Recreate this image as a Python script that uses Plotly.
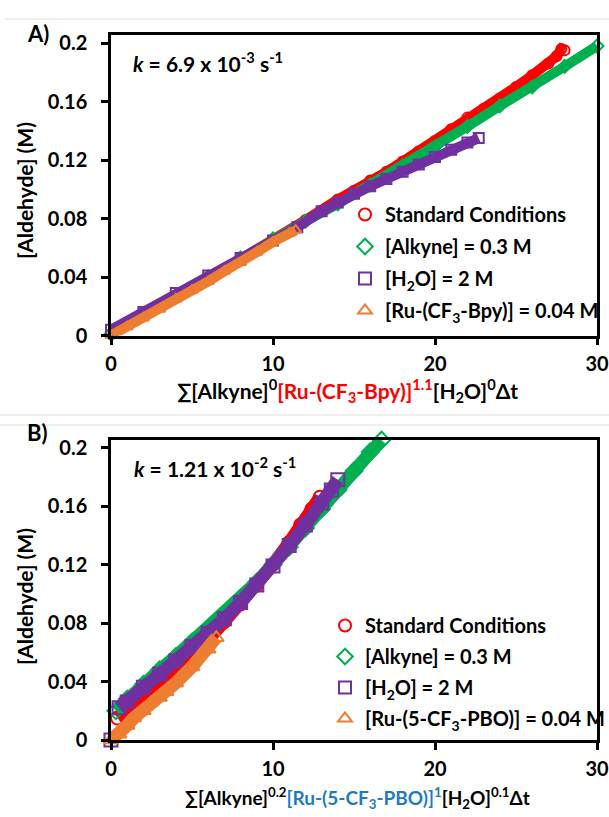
import plotly.graph_objects as go

W, H = 609, 817

# ---------------- Panel A data ----------------
a_std_x = [0, 2, 4, 6, 8, 10, 12, 14, 15, 16, 17, 18, 19, 20, 21, 22, 23, 24, 25, 26, 27, 27.5, 27.8, 28.0]
a_std_y = [0.001, 0.013, 0.026, 0.039, 0.052, 0.065, 0.079, 0.093, 0.099, 0.106, 0.112, 0.119, 0.126, 0.133,
           0.141, 0.149, 0.155, 0.162, 0.170, 0.178, 0.186, 0.191, 0.196, 0.195]

a_alk_x = [0, 2, 4, 6, 8, 10, 12, 14, 16, 18, 20, 22, 24, 26, 28, 30]
a_alk_y = [0.001, 0.014, 0.027, 0.040, 0.053, 0.066, 0.078, 0.090, 0.103, 0.116, 0.129, 0.143, 0.157, 0.170,
           0.184, 0.198]

a_h2o_x = [0, 2, 4, 6, 8, 10, 11.5, 13, 14, 15, 16, 17, 18, 19, 20, 21, 22, 22.7]
a_h2o_y = [0.004, 0.016, 0.029, 0.041, 0.053, 0.065, 0.074, 0.085, 0.091, 0.097, 0.102, 0.107, 0.112, 0.117,
           0.122, 0.127, 0.132, 0.135]

a_ru_x = [0, 1, 2, 3, 4, 5, 6, 7, 8, 9, 10, 11, 11.4]
a_ru_y = [0.000, 0.006, 0.012, 0.018, 0.025, 0.031, 0.037, 0.044, 0.050, 0.057, 0.064, 0.070, 0.072]

# ---------------- Panel B data ----------------
b_std_x = [0.4, 1, 2, 3, 4, 5, 6, 7, 8, 9, 10, 11, 11.7, 12.4, 12.9]
b_std_y = [0.015, 0.019, 0.028, 0.038, 0.048, 0.058, 0.069, 0.081, 0.093, 0.106, 0.120, 0.135, 0.147, 0.158, 0.166]

b_alk_x = [0.3, 1, 2, 3, 4, 5, 6, 7, 8, 9, 10, 11, 12, 13, 14, 15, 16, 16.7]
b_alk_y = [0.020, 0.028, 0.038, 0.048, 0.057, 0.067, 0.076, 0.086, 0.097, 0.108, 0.120, 0.132, 0.145, 0.158,
           0.171, 0.184, 0.197, 0.205]

b_h2o_x = [0, None, 0.5, 1, 2, 3, 4, 5, 6, 7, 8, 9, 10, 11, 12, 13, 13.6, 14]
b_h2o_y = [0.0, None, 0.022, 0.026, 0.036, 0.045, 0.054, 0.064, 0.073, 0.083, 0.094, 0.106, 0.119, 0.133,
           0.147, 0.162, 0.171, 0.178]

b_ru_x = [0, 0.5, 1, 1.4, 2, 3, 3.4, 4, 5, 6, 6.5]
b_ru_y = [0.000, 0.004, 0.010, 0.015, 0.020, 0.029, 0.033, 0.039, 0.050, 0.062, 0.070]

# ---------------- labels ----------------
x_ticks = [0, 10, 20, 30]
y_ticks = [0, 0.04, 0.08, 0.12, 0.16, 0.2]
y_tick_text = ["0", "0.04", "0.08", "0.12", "0.16", "0.2"]

names_a = ["Standard Conditions", "[Alkyne] = 0.3 M", "[H<sub>2</sub>O] = 2 M",
           "[Ru-(CF<sub>3</sub>-Bpy)] = 0.04 M"]
names_b = ["Standard Conditions", "[Alkyne] = 0.3 M", "[H<sub>2</sub>O] = 2 M",
           "[Ru-(5-CF<sub>3</sub>-PBO)] = 0.04 M"]

colors = ["#FF0000", "#00B050", "#7030A0", "#ED7D31"]
symbols = ["circle-open", "diamond-open", "square-open", "triangle-up-open"]

FONT = "Lato"


def px(x):
    return x / W


def py(y):
    return 1 - y / H


fig = go.Figure()

series_a = [(a_std_x, a_std_y), (a_alk_x, a_alk_y), (a_h2o_x, a_h2o_y), (a_ru_x, a_ru_y)]
series_b = [(b_std_x, b_std_y), (b_alk_x, b_alk_y), (b_h2o_x, b_h2o_y), (b_ru_x, b_ru_y)]

for (sx, sy), c, s in zip(series_a, colors, symbols):
    fig.add_trace(go.Scatter(x=sx, y=sy, mode="lines+markers", xaxis="x", yaxis="y",
                             line=dict(color=c, width=10),
                             marker=dict(symbol=s, size=10, color=c, line=dict(width=2, color=c)),
                             cliponaxis=False, showlegend=False, hoverinfo="skip"))
for (sx, sy), c, s in zip(series_b, colors, symbols):
    fig.add_trace(go.Scatter(x=sx, y=sy, mode="lines+markers", xaxis="x2", yaxis="y2",
                             line=dict(color=c, width=13),
                             marker=dict(symbol=s, size=13, color=c, line=dict(width=2, color=c)),
                             cliponaxis=False, showlegend=False, hoverinfo="skip", connectgaps=False))

# legend entries
for i, (n, c, s) in enumerate(zip(names_a, colors, symbols)):
    fig.add_trace(go.Scatter(x=[None], y=[None], mode="markers", name=n, xaxis="x", yaxis="y",
                             marker=dict(symbol=s, size=11, color=c, line=dict(width=3, color=c)),
                             legend="legend", legendgroup="a%d" % i))
for i, (n, c, s) in enumerate(zip(names_b, colors, symbols)):
    fig.add_trace(go.Scatter(x=[None], y=[None], mode="markers", name=n, xaxis="x2", yaxis="y2",
                             marker=dict(symbol=s, size=11, color=c, line=dict(width=3, color=c)),
                             legend="legend2", legendgroup="b%d" % i))

axis_common = dict(showline=True, linecolor="black", linewidth=2.5, mirror=True, showgrid=False,
                   zeroline=False, ticks="outside", ticklen=7, tickwidth=2.5, tickcolor="black",
                   tickfont=dict(family=FONT, size=20, color="black", weight="bold"))

xdom = [px(111), px(597)]
leg_font = dict(family=FONT, size=20, color="black", weight="bold")
fig.update_layout(
    width=W, height=H, margin=dict(l=0, r=0, t=0, b=0, autoexpand=False),
    paper_bgcolor="white", plot_bgcolor="white",
    font=dict(family=FONT, color="black"),
    xaxis=dict(domain=xdom, range=[0, 30], tickvals=x_ticks, anchor="y", ticklabelstandoff=2,
               **axis_common),
    yaxis=dict(domain=[py(335.5), py(35)], range=[0, 0.2055], tickvals=y_ticks, ticktext=y_tick_text,
               anchor="x", ticklabelstandoff=10, **axis_common),
    xaxis2=dict(domain=xdom, range=[0, 30], tickvals=x_ticks, anchor="y2", ticklabelstandoff=2,
                **axis_common),
    yaxis2=dict(domain=[py(740), py(439.5)], range=[0, 0.2055], tickvals=y_ticks, ticktext=y_tick_text,
                anchor="x2", ticklabelstandoff=10, **axis_common),
    legend=dict(x=px(345), y=py(195), xanchor="left", yanchor="top", bgcolor="rgba(0,0,0,0)",
                font=leg_font, tracegroupgap=3, itemsizing="constant"),
    legend2=dict(x=px(325), y=py(606), xanchor="left", yanchor="top", bgcolor="rgba(0,0,0,0)",
                 font=leg_font, tracegroupgap=2, itemsizing="constant"),
)

ann_font = dict(family=FONT, size=21, color="black", weight="bold")
lab_font = dict(family=FONT, size=22, color="black", weight="bold")
annotations = [
    dict(text="A)", x=px(38), y=py(34), font=lab_font),
    dict(text="B)", x=px(37), y=py(432), font=lab_font),
    dict(text="<i>k</i> = 6.9 x 10<sup>-3</sup> s<sup>-1</sup>", x=px(131), y=py(62), xanchor="left",
         font=ann_font),
    dict(text="<i>k</i> = 1.21 x 10<sup>-2</sup> s<sup>-1</sup>", x=px(132), y=py(467), xanchor="left",
         font=ann_font),
    dict(text="[Aldehyde] (M)", x=px(24), y=py(191), textangle=-90, font=ann_font),
    dict(text="[Aldehyde] (M)", x=px(24), y=py(597), textangle=-90, font=ann_font),
    dict(text="∑[Alkyne]<sup>0</sup><span style='color:#FF0000'>[Ru-(CF<sub>3</sub>-Bpy)]<sup>1.1</sup></span>"
              "[H<sub>2</sub>O]<sup>0</sup>Δt", x=px(347), y=py(390), font=ann_font),
    dict(text="∑[Alkyne]<sup>0.2</sup><span style='color:#1F7CC1'>[Ru-(5-CF<sub>3</sub>-PBO)]<sup>1</sup></span>"
              "[H<sub>2</sub>O]<sup>0.1</sup>Δt", x=px(358), y=py(798),
         font=dict(family=FONT, size=19, color="black", weight="bold")),
]
for a in annotations:
    a.setdefault("xanchor", "center")
    a.update(xref="paper", yref="paper", showarrow=False, yanchor="middle")
fig.update_layout(annotations=annotations)

shapes = [
    dict(type="line", xref="paper", yref="paper", x0=px(5), x1=1, y0=py(19), y1=py(19),
         line=dict(color="#DDDDDD", width=1)),
    dict(type="line", xref="paper", yref="paper", x0=0, x1=1, y0=py(415), y1=py(415),
         line=dict(color="#DDDDDD", width=1)),
    dict(type="line", xref="paper", yref="paper", x0=0, x1=1, y0=py(425), y1=py(425),
         line=dict(color="#DDDDDD", width=1)),
]
fig.update_layout(shapes=shapes)

fig.write_html("out.html", config={"displayModeBar": False},
               post_script="document.body.style.margin='0px';document.body.style.overflow='hidden';")
